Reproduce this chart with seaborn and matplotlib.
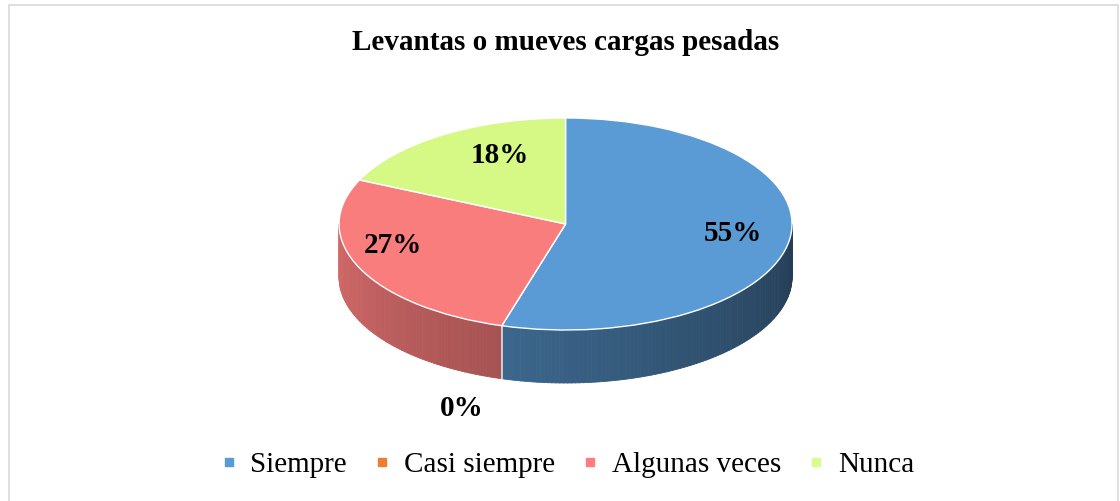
import numpy as np
import seaborn as sns
import matplotlib.pyplot as plt
from matplotlib.collections import PolyCollection
from matplotlib.lines import Line2D
from matplotlib.patches import Rectangle
from matplotlib.colors import to_rgb

categories = ["Siempre", "Casi siempre", "Algunas veces", "Nunca"]
counts = [6, 0, 3, 2]
colors = ["#5B9BD5", "#ED7D31", "#FA7D7D", "#D6F985"]
legend_colors = ["#5B9BD5", "#ED7D31", "#FF7C80", "#D9FC8C"]
title = "Levantas o mueves cargas pesadas"

# label spots (pie units), pie depth
label_pos = [(0.74, -0.09), (-0.46, -1.74), (-0.76, -0.2), (-0.29, 0.65)]
depth = 0.5

sns.set_theme(style="white")
plt.rcParams["font.family"] = ["Liberation Serif", "DejaVu Serif"]
plt.rcParams["text.color"] = "black"

fig = plt.figure(figsize=(11.2, 5.01), dpi=100)
ax = fig.add_axes([0, 0, 1, 1])

# side walls of the 3d pie, drawn as thin shaded strips
total = sum(counts)
start = 90.0
polys, face = [], []
for val, col in zip(counts, colors):
    span = 360.0 * val / total
    a1 = start - span
    start = a1
    # visible front band is 180..360 deg
    lo, hi = a1 % 360, a1 % 360 + span
    for base in (0, 360):
        s = max(lo, 180 + base)
        e = min(hi, 360 + base)
        if e <= s:
            continue
        ts = np.linspace(s, e, int(e - s) + 2)
        for t1, t2 in zip(ts[:-1], ts[1:]):
            r1, r2 = np.radians(t1), np.radians(t2)
            polys.append([(np.cos(r1), np.sin(r1)), (np.cos(r2), np.sin(r2)),
                          (np.cos(r2), np.sin(r2) - depth), (np.cos(r1), np.sin(r1) - depth)])
            k = 0.85 - ((t1 - base) - 180) / 180 * 0.46
            face.append(tuple(c * k for c in to_rgb(col)))

pc = PolyCollection(polys, facecolors=face, edgecolors=face, linewidths=0.6, zorder=1)
ax.add_collection(pc)

# white seam on the side where blue meets red
seam = np.radians(90 - 360.0 * counts[0] / total)
ax.plot([np.cos(seam)] * 2, [np.sin(seam), np.sin(seam) - depth],
        color="white", lw=1.2, alpha=0.8, zorder=2)

wedges, texts, autotexts = ax.pie(
    counts, colors=colors, startangle=90, counterclock=False,
    autopct="%1.0f%%", wedgeprops=dict(edgecolor="white", linewidth=1.0, zorder=3),
    textprops=dict(fontsize=21, fontweight="bold", color="black"))
for t, p in zip(autotexts, label_pos):
    t.set_position(p)
    t.set_zorder(5)

ax.set_aspect("auto")
ax.set_xlim(-2.497, 2.448)
ax.set_ylim(-2.613, 2.113)
ax.axis("off")

fig.text(565.5 / 1120, 1 - 43 / 501, title, ha="center", va="center",
         fontsize=21, fontweight="bold", color="black")

handles = [Line2D([0], [0], marker="s", linestyle="none", markersize=5.5,
                  markerfacecolor=c, markeredgecolor=c) for c in legend_colors]
leg = fig.legend(handles, categories, loc="center", bbox_to_anchor=(567 / 1120, 1 - 465 / 501),
                 ncol=4, frameon=False, fontsize=21, handlelength=0.6, handletextpad=0.45,
                 columnspacing=0.9)
for t in leg.get_texts():
    t.set_color("black")

fig.patches.append(Rectangle((9 / 1120, -0.05), (1118 - 9) / 1120, 1.05 - 5 / 501,
                             transform=fig.transFigure, fill=False,
                             edgecolor="#d9d9d9", linewidth=1.2))

fig.savefig("out.png", dpi=100, facecolor="white")
